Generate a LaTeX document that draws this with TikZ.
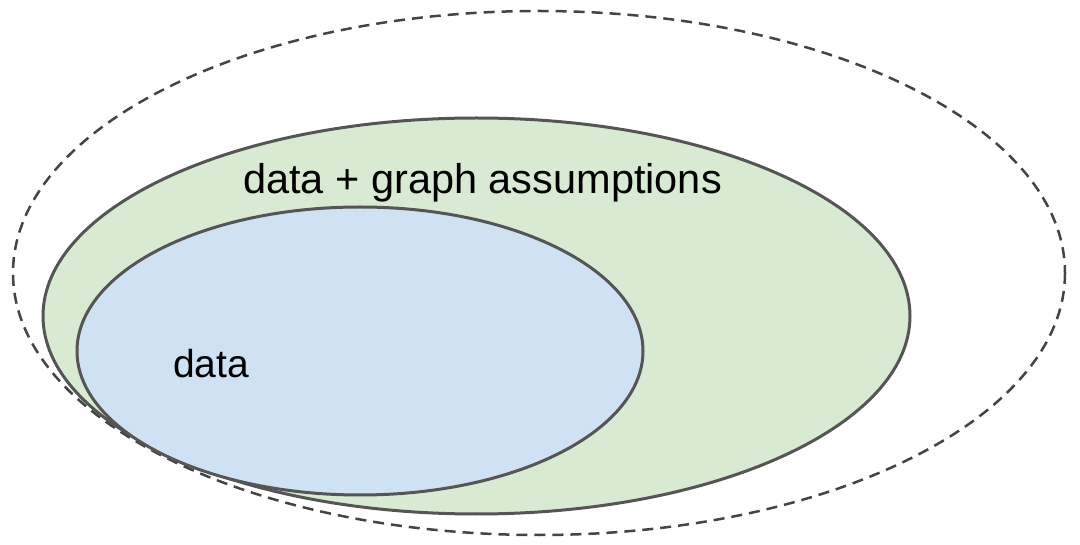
\documentclass[tikz,border=0pt]{standalone}
\usepackage{fontspec}
\setmainfont{Liberation Sans}
\definecolor{greenfill}{HTML}{D9EAD3}
\definecolor{bluefill}{HTML}{CFE2F3}
\definecolor{edge}{HTML}{555555}
\definecolor{dashcol}{HTML}{444444}
\begin{document}
\begin{tikzpicture}[x=1pt,y=-1pt,
  setshape/.style={draw=edge,line width=3pt},
  outerset/.style={draw=dashcol,line width=2.5pt,dash pattern=on 11pt off 7pt},
  lbl/.style={font=\fontsize{41.5}{48}\selectfont,inner sep=0pt,text=black}]
\useasboundingbox (0,0) rectangle (1080,545);
\draw[outerset] (539,273) ellipse [x radius=526,y radius=262];
\draw[setshape,fill=greenfill] (476.5,316) ellipse [x radius=433.5,y radius=198];
\draw[setshape,fill=bluefill] (360,351) ellipse [x radius=283,y radius=144];
\node[lbl,anchor=base] (dga) at (482.5,194) {data + graph assumptions};
\node[lbl,font=\fontsize{39}{46}\selectfont,anchor=base west] (d) at (173,378) {data};
\end{tikzpicture}
\end{document}
